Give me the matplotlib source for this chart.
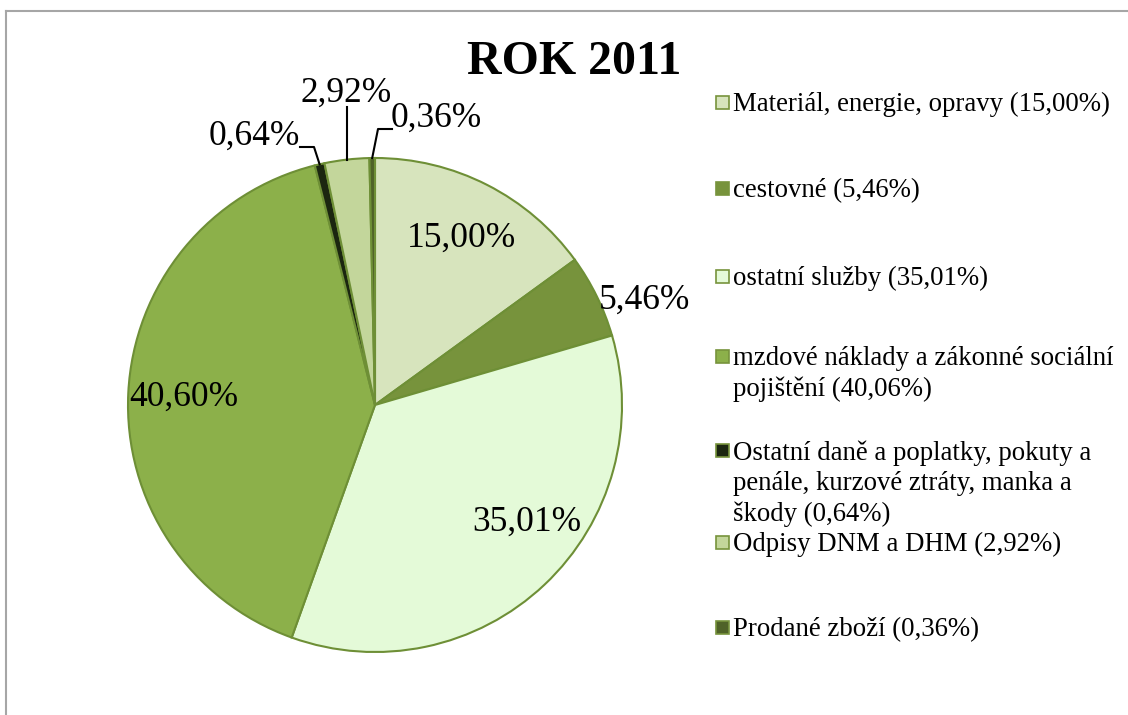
import matplotlib
matplotlib.use("Agg")
import matplotlib.pyplot as plt
import numpy as np
from matplotlib.lines import Line2D
from matplotlib.patches import Rectangle

# ---- data ----
title = "ROK 2011"
categories = [
    "Materiál, energie, opravy",
    "cestovné",
    "ostatní služby",
    "mzdové náklady a zákonné sociální pojištění",
    "Ostatní daně a poplatky, pokuty a penále, kurzové ztráty, manka a škody",
    "Odpisy DNM a DHM",
    "Prodané zboží",
]
values = [15.00, 5.46, 35.01, 40.60, 0.64, 2.92, 0.36]
slice_labels = ["15,00%", "5,46%", "35,01%", "40,60%", "0,64%", "2,92%", "0,36%"]
legend_labels = [
    "Materiál, energie, opravy (15,00%)",
    "cestovné (5,46%)",
    "ostatní služby (35,01%)",
    "mzdové náklady a zákonné sociální\npojištění (40,06%)",
    "Ostatní daně a poplatky, pokuty a\npenále, kurzové ztráty, manka a\nškody (0,64%)",
    "Odpisy DNM a DHM (2,92%)",
    "Prodané zboží (0,36%)",
]

# ---- style ----
colors = ["#D7E4BD", "#77933C", "#E4FAD8", "#8CB04A", "#1B2610", "#C3D69B", "#4F6228"]
edge = "#6E8F36"
FONT = "Liberation Serif"
W, H = 1128, 715
DPI = 100

fig = plt.figure(figsize=(W / DPI, H / DPI), dpi=DPI)
fig.patch.set_facecolor("white")

# frame lines (gray border, top and left)
fig.add_artist(Line2D([6 / W, 6 / W], [0, 1 - 11 / H], transform=fig.transFigure,
                      color="#A6A6A6", lw=1.5))
fig.add_artist(Line2D([6 / W, 1], [1 - 11 / H, 1 - 11 / H], transform=fig.transFigure,
                      color="#A6A6A6", lw=1.5))

# pie axes: center (375,405) px, radius 247 px
cx, cy, R = 375, 405, 247
ax = fig.add_axes([(cx - R) / W, (H - cy - R) / H, 2 * R / W, 2 * R / H])

wedges, _ = ax.pie(values, colors=colors, startangle=90, counterclock=False,
                   radius=1.0, wedgeprops=dict(edgecolor=edge, linewidth=1.5))
ax.set_aspect("auto")
ax.set_xlim(-1, 1)
ax.set_ylim(-1, 1)
ax.axis("off")

# label layout (data coords)
label_pos = [(0.352, 0.676), (0.905, 0.425), (0.615, -0.474), (-0.773, 0.032),
             (-0.490, 1.089), (-0.117, 1.263), (0.247, 1.162)]
label_ha = ["center", "left", "center", "center", "center", "center", "center"]
for (x, y), t, ha in zip(label_pos, slice_labels, label_ha):
    ax.text(x, y, t, ha=ha, va="center", fontsize=25.5, family=FONT, color="black")

# leader lines for small slices
total = sum(values)
cum = np.cumsum([0] + values[:-1])
mids = [90 - (c + v / 2) / total * 360 for c, v in zip(cum, values)]
def edgept(i):
    a = np.deg2rad(mids[i])
    return np.cos(a), np.sin(a)
px = lambda p: ((p[0] - cx) / R, (cy - p[1]) / R)
# 0,64%
e = edgept(4)
pts = [px((300, 147)), px((314, 147)), e]
ax.plot([p[0] for p in pts], [p[1] for p in pts], color="black", lw=1.5, clip_on=False)
# 2,92%
e = edgept(5)
pts = [(e[0], px((0, 107))[1]), e]
ax.plot([p[0] for p in pts], [p[1] for p in pts], color="black", lw=1.5, clip_on=False)
# 0,36%
e = edgept(6)
pts = [px((392, 129)), px((378, 129)), e]
ax.plot([p[0] for p in pts], [p[1] for p in pts], color="black", lw=1.5, clip_on=False)

# title
fig.text(574 / W, 1 - 62 / H, title, ha="center", va="center", fontsize=34.5,
         fontweight="bold", family=FONT)

# legend (manual)
legend_y = [102, 188, 276, 356, 450, 542, 627]
for lab, col, y in zip(legend_labels, colors, legend_y):
    fig.add_artist(Rectangle(((716) / W, 1 - (y + 7) / H), 13 / W, 13 / H,
                             transform=fig.transFigure, facecolor=col,
                             edgecolor="#77933C", lw=1.2))
    fig.text(733 / W, 1 - (y - 10) / H, lab, ha="left", va="top", fontsize=19.3,
             family=FONT, linespacing=1.28)

fig.savefig("out.png", dpi=DPI)
